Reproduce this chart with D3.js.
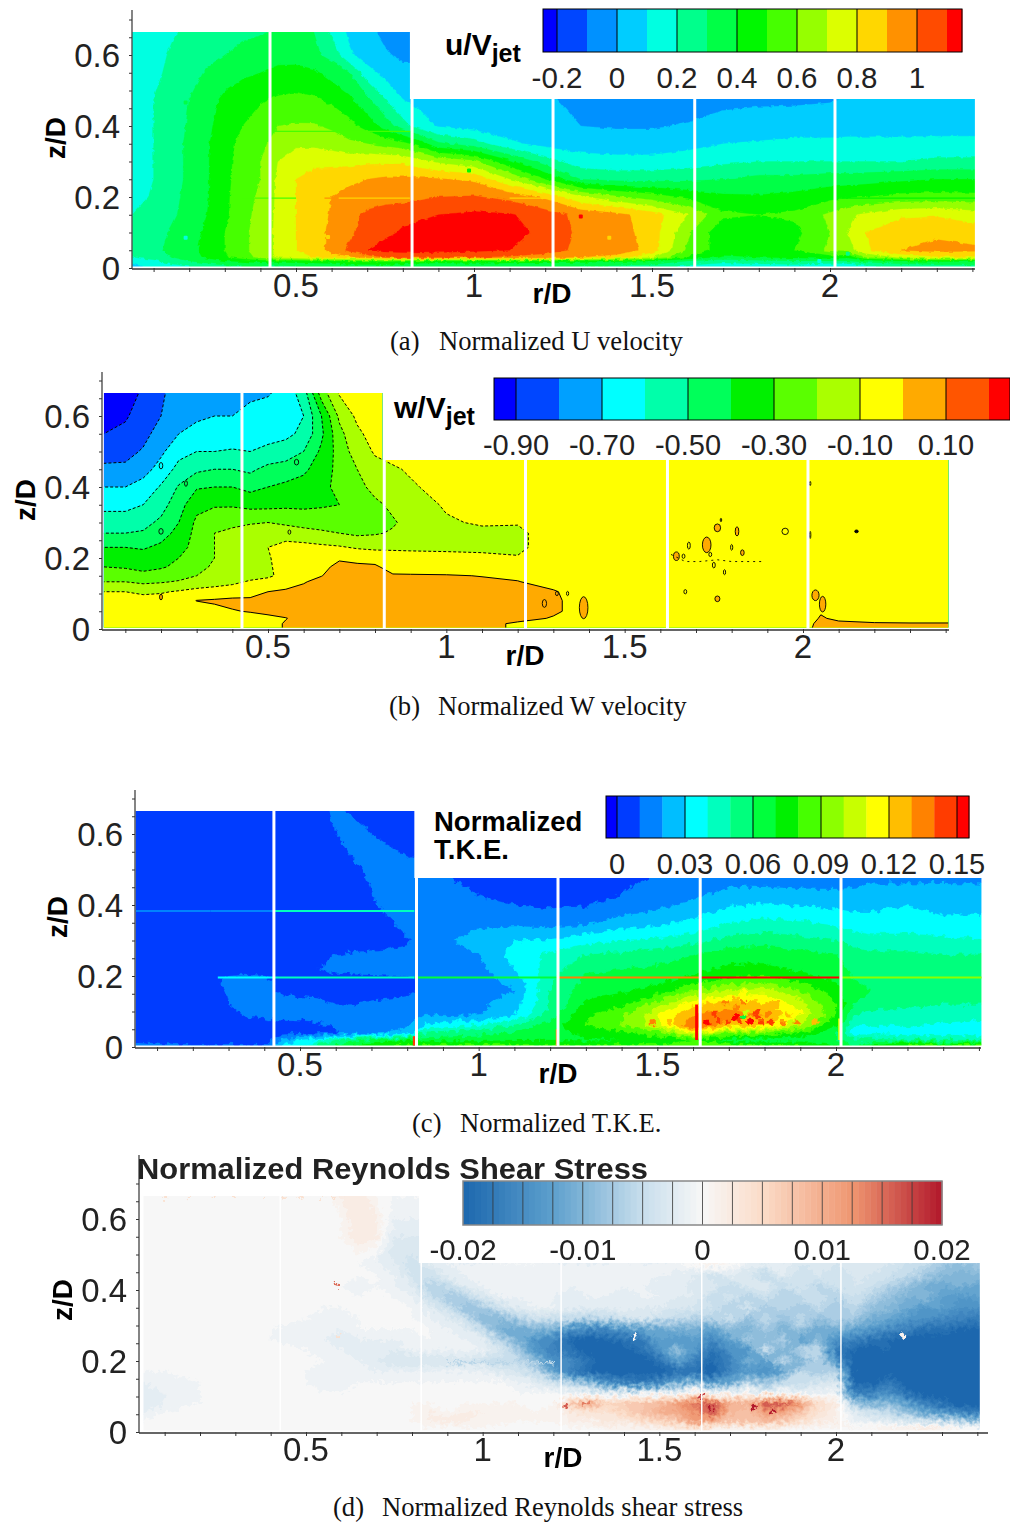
<!DOCTYPE html>
<html><head><meta charset="utf-8">
<script src="https://cdn.jsdelivr.net/npm/d3@7"></script>
<style>html,body{margin:0;padding:0;background:#fff}svg{display:block}text{font-family:"Liberation Sans",Arial,sans-serif}</style>
</head><body><svg id="c" width="1010" height="1523"></svg>
<script>
// ---------- shared grid columns (r/D) ----------
const rCols=[.04,.1,.15,.2,.25,.3,.35,.4,.45,.5,.55,.6,.65,.7,.75,.8,.85,.9,1,1.1,1.2,1.3,1.4,1.5,1.6,1.7,1.8,1.9,2,2.05,2.1,2.2,2.3,2.41];
const gapR=[.427,.826,1.222,1.62,2.014];
const rTickMajor=[.5,1,1.5,2];
const zTickMajor=[0,.2,.4,.6];

// ---------- (a) u/Vjet, in hundredths ----------
const uZ=[.665,.6,.55,.476,.4,.35,.3,.25,.2,.15,.1,.05,.03,.02,.005];
const uRows=[
[13,16,19,22,25,27,28,29,31,31,30,18,8,2,-2,-3],
[12,17,21,24,27,30,33,35,36,35,32,27,12,5,1,-2],
[13,18,22,27,31,35,38,40,43,44,42,36,30,14,7,3],
[14,20,25,30,36,42,46,49,51,52,51,48,42,32,20,10,7,5,3,2,1,-2,-4,-5,-5,-3,-2,-2,-1,1,2,3,3,3],
[15,20,26,31,38,44,50,54,60,61,61,58,53,46,36,24,14,9,6,4,3,0,-1,-1,1,4,5,6,6,7,7,7,6,6],
[15,20,26,32,39,46,53,57,65,68,68,66,62,60,57,53,45,32,25,12,7,6,5,5,7,10,11,12,12,12,12,12,13,13],
[15,20,26,32,39,47,54,60,70,76,77,76,76,78,78,78,73,68,62,42,25,14,13,13,15,18,20,20,20,20,20,20,22,22],
[16,20,26,32,39,47,55,60,72,80,84,87,88,90,92,92,92,91,88,70,50,30,27,27,28,30,33,33,35,35,36,38,40,40],
[17,21,27,33,39,48,55,62,72,80,85,90,93,95,96,96,98,100,101,97,88,72,62,55,48,42,41,43,47,49,50,53,54,53],
[20,22,28,34,40,48,56,64,72,80,85,91,97,102,105,108,109,110,112,111,105,97,93,85,70,52,50,52,62,68,72,78,79,75],
[23,26,31,36,42,50,57,65,72,80,86,92,98,104,108,111,112,114,116,114,107,98,95,85,62,42,43,47,60,70,80,87,88,85],
[25,28,32,37,43,50,57,65,72,80,85,93,102,110,113,114,115,115,112,110,105,97,98,85,58,45,46,50,62,65,78,90,93,92],
[20,24,30,35,42,48,56,62,72,75,80,85,88,95,100,102,102,100,100,98,95,90,85,70,48,38,40,42,45,42,60,72,78,78],
[12,18,24,30,35,40,42,46,45,45,47,48,50,50,52,50,48,47,48,47,46,44,42,40,30,25,28,30,30,30,34,40,42,42],
[8,12,17,20,24,28,30,30,28,30,30,32,35,35,35,33,30,30,32,30,30,30,28,25,18,12,13,15,10,10,18,22,25,25]];
const uLevels=[-.2,-.1,0,.1,.2,.3,.4,.5,.6,.7,.8,.9,1,1.1];
const uColors=["#0000ff","#0046ff","#0091ff","#00cdff","#00ffe1","#00ff8c","#00ff46","#00f800","#46ff00","#96ff00","#dcff00","#ffd700","#ff9100","#ff4b00","#ff0000"];
const uTicks=[-.2,0,.2,.4,.6,.8,1];
const uTickText=["-0.2","0","0.2","0.4","0.6","0.8","1"];
const uSeams=[[.43,.82,.385,57],[.35,.5,.197,58],[.58,.62,.197,93],[.62,.82,.197,83],[1.62,2.41,.197,44],[1.1,1.2,.197,83]];
const uSpots=[[.59,.087,82],[1.38,.085,82],[.19,.085,14],[.59,.466,44],[.986,.275,45],[.19,.466,34],[.59,.275,82],[.19,.27,36],[1.3,.145,110],[2.05,.04,22],[1.97,.02,12]];

// ---------- (b) w/Vjet, in hundredths ----------
const wZ=[.665,.6,.55,.5,.45,.4,.35,.3,.27,.23,.2,.175,.15,.133,.105,.08,.05,.03,.015,0];
const wRows=[
[-96,-93,-89,-81,-77,-75,-74,-73,-72,-71,-66,-55,-25,-9,-5,-3],
[-95,-91,-86,-80,-74,-71,-70,-70,-67,-65,-63,-60,-40,-18,-8,-5],
[-90,-88,-83,-76,-70,-68,-67,-66,-65,-63,-62,-58,-42,-23,-12,-6],
[-84,-83,-79,-72,-63,-60,-60,-59,-60,-58,-56,-50,-38,-26,-15,-9,-7,-6,-4,-2],
[-78,-78,-74,-66,-57,-52,-50,-50,-52,-47,-45,-42,-35,-27,-20,-13,-11,-9,-5,-3],
[-70,-70,-66,-59,-49,-41,-40,-40,-43,-40,-38,-36,-32,-28,-23,-17,-14,-11,-7,-4,-3],
[-63,-63,-60,-54,-44,-33,-31,-31,-33,-33,-32,-32,-31,-30,-28,-22,-18,-14,-9,-6,-4,-3],
[-55,-55,-53,-48,-40,-28,-24,-23,-21,-20,-22,-24,-25,-27,-29,-25,-21,-17,-11,-9,-9,-3],
[-50,-50,-49,-44,-37,-27,-20,-17,-15,-13,-14,-16,-18,-20,-22,-21,-19,-16,-13,-12,-13,-3],
[-40,-40,-41,-38,-33,-27,-20,-15,-13,-10,-7,-7,-8,-9,-11,-12,-12,-12,-12,-12,-13,-3],
[-33,-34,-36,-34,-30,-25,-20,-15,-13,-11,-5,-4,-3,-1,-3,-4,-5,-6,-7,-8,-9,-3],
[-30,-31,-33,-31,-28,-22,-19,-15,-14,-12,-4,-3,-2,2,2,1.5,-4,-4,-4,-5,-5,-3],
[-23,-25,-27,-26,-24,-20,-17,-15,-13,-11,-8,-2,-.2,3,3,3,1,.8,.5,-.2,-1,-3],
[-20,-20,-22,-21,-19,-16,-14,-12,-9,-8,-3,-.5,2,4,4,4,3,3,2,1,.2,-2,-3],
[-10,-10,-12,-11,-9,-7,-6,-5,-4,0,1,2,3,5,5,5,5,5,4,4,3,.5,-3],
[-6,-6,-6,-6,-4,.2,1,2,2,3,4,4,5,5,5,5,5,5,4,4,3,1,-3],
[-5,-5,-5,-5,-5,-4,-2,-.5,.5,1,2,3,4,5,5,5,5,5,4,4,3,1,-3,-3,-3,-3,-3,-3,-3,-.5,-3],
[-5,-5,-5,-5,-5,-5,-5,-4,-3,-1,-.2,2,3,4,4,4,3,3,3,3,2,-.5,-3,-3,-3,-3,-3,-3,-3,.5,-1,-2,-2,-2],
[-5,-5,-5,-5,-5,-5,-5,-4,-3,-2,.5,1,2,3,3,3,2,2,2,2,-1,-2,-3,-3,-3,-3,-3,-3,-3,2,1,.5,.3,.3],
[-5,-5,-5,-5,-5,-5,-5,-4,-3,-2,.5,1,2,3,3,3,2,2,2,2,-1,-2,-3,-3,-3,-3,-3,-3,-3,3,2,1,.5,.5]];
const wLevels=[-.9,-.8,-.7,-.6,-.5,-.4,-.3,-.2,-.1,0,.1,.2];
const wColors=["#0000ff","#0046ff","#00a0ff","#00ffff","#00ffaa","#00ff5a","#00f000","#5aff00","#aaff00","#ffff00","#ffaa00","#ff5500","#ff0000"];
const wTicks=[-.9,-.7,-.5,-.3,-.1,.1];
const wTickText=["-0.90","-0.70","-0.50","-0.30","-0.10","0.10"];
// small isolated contour islands: r, z, r-radius, z-radius, kind (1 = above zero, 2 = black dot, 0 = outline only)
const wIslands=[[.2,.09,.004,.008,1],[.27,.41,.004,.008,0],[.2,.46,.005,.009,0],[.58,.47,.006,.008,0],[.56,.273,.004,.006,0],[.2,.275,.006,.008,0],
[1.385,.06,.012,.031,1],[1.275,.072,.006,.011,0],[1.31,.1,.004,.006,0],[1.34,.1,.003,.006,0],
[1.73,.237,.012,.022,1],[1.645,.205,.008,.012,1],[1.665,.205,.004,.006,0],[1.76,.285,.009,.011,1],[1.815,.275,.005,.013,1],[1.8,.23,.003,.008,0],[1.68,.235,.004,.01,0],[1.83,.215,.005,.008,1],[1.77,.307,.002,.005,0],
[1.95,.275,.009,.009,0],[1.76,.085,.007,.008,1],[1.67,.105,.004,.006,0],[1.74,.21,.004,.006,0],[1.75,.18,.004,.008,0],[1.78,.16,.003,.007,0],[2.15,.275,.005,.004,2],
[2.035,.095,.01,.015,1],[2.055,.07,.009,.022,1],[2.02,.265,.002,.01,0],[2.02,.41,.002,.006,0]];
const wIslandLine=[[1.63,.21],[1.67,.19],[1.71,.19],[1.76,.195],[1.8,.19],[1.85,.19],[1.89,.19]];

// ---------- (c) T.K.E., in thousandths ----------
const kZ=[.665,.6,.55,.476,.42,.38,.34,.3,.26,.22,.19,.16,.12,.09,.06,.04,.02,.005];
const kRows=[
[5,5,5,5,5,5,5,5,5,5,5,12,8,5,5,5],
[5,5,5,5,5,5,5,5,5,5,5,10,15,10,6,5],
[5,5,5,5,5,5,5,5,5,5,5,7,11,15,12,8],
[5,5,5,5,5,5,5,5,5,5,5,5,7,11,20,19,13,11,7,5,5,5,7,11,15,16,15,14,15,16,18,17,18,18],
[5,5,5,5,5,5,5,5,5,5,5,5,5,9,16,20,16,13,10.5,8,7,7,11,15,19,25,26,25,24,24,25,28,26,25],
[5,5,5,5,5,5,5,5,5,5,5,5,5,6,12,18,18,16,13,12,11,12,17,21,26,33,36,34,32,30,30,32,29,29],
[5,5,5,5,5,5,5,5,5,5,5,5,5,5,7,14,19,19,19,20,19,21,28,30,34,42,45,44,40,37,36,37,35,34],
[5,5,5,5,5,5,5,5,5,5,5,5,5,5,5,9,14,18,25,30,31,37,40,42,46,54,56,53,50,45,43,43,42,41],
[5,5,5,5,5,5,5,5,5,6,8,10,11,12,13,12,12,13,20,34,42,50,52,55,60,66,67,64,60,55,52,52,50,50],
[5,5,5,5,5,6,6,6,7,8,10,12,13,14,15,14,14,14,17,30,45,58,60,62,66,72,72,68,64,58,57,57,55,54],
[5,5,5,5,8,12,13,12,8,7,7,7,7,7,7,8,12,14,16,24,48,62,63,66,74,82,84,76,68,60,58,57,55,54],
[5,5,5,5,5,11,13,13,8,6,6,6,6,7,7,8,12,14,16,20,50,66,68,74,90,100,105,90,75,62,60,58,55,54],
[5,5,5,5,5,10,12,13,14,14,13,10,10,11,12,13,16,17,18,25,50,72,78,95,118,125,125,105,80,60,56,53,50,50],
[5,5,5,5,5,6,11,12,14,14,15,16,16,15,14,15,20,18,19,30,55,78,88,110,130,135,130,110,80,50,45,45,45,44],
[5,5,5,5,5,5,5,5,6,7,8,11,13,16,18,20,32,36,42,50,65,80,90,105,140,125,120,100,70,40,40,40,38,35],
[5,5,5,5,5,5,5,5,6,6,7,9,12,18,20,22,50,52,55,60,65,75,78,85,110,90,90,80,60,35,37,35,35,34],
[5,5,5,5,5,5,5,5,20,30,35,50,55,60,65,68,65,66,67,70,70,68,70,75,80,65,65,65,60,50,52,50,50,50],
[18,12,10,10,10,10,10,10,30,40,50,60,70,75,80,80,80,80,80,80,80,80,80,80,80,80,80,80,70,60,70,80,80,80]];
const kLevels=[0,.01,.02,.03,.04,.05,.06,.07,.08,.09,.1,.11,.12,.13,.14,.15];
const kColors=["#0000ff","#003cff","#0082ff","#00beff","#00ffff","#00ffbe","#00ff7d","#00ff3c","#00f000","#46ff00","#8cff00","#c8ff00","#ffff00","#ffbe00","#ff8200","#ff3c00","#ff0000"];
const kTicks=[0,.03,.06,.09,.12,.15];
const kTickText=["0","0.03","0.06","0.09","0.12","0.15"];
const kSeams=[[.04,.25,.383,12],[.25,.43,.383,18],[.43,.82,.383,40],[.27,.43,.196,35],[.43,.82,.196,45],[.82,1.22,.196,60],[1.22,1.62,.196,135],[1.62,2.01,.196,150],[2.01,2.41,.196,95]];
const kVSeams=[[1.61,.02,.12,150],[.82,0,.03,140],[1.22,0,.05,130],[2.01,.02,.08,100],[1.62,.13,.18,110]];
const kSpots=[[1.49,.068,130],[1.53,.07,125],[1.57,.068,120],[1.64,.07,150],[1.67,.075,145],[1.7,.07,148],[1.73,.072,145],[1.76,.07,150],[1.79,.068,145],[1.82,.07,140],[1.85,.068,135],[1.89,.068,130],[1.94,.07,125],
[1.66,.095,140],[1.69,.1,135],[1.72,.11,138],[1.75,.095,100],[1.78,.1,140],[1.81,.095,135],[1.84,.1,125],[1.87,.09,128],[1.69,.125,132],[1.72,.135,125],[1.74,.15,118],[1.77,.125,128],[1.8,.13,118],[1.83,.12,122],[1.86,.115,115],[1.72,.085,150],[1.67,.118,122],[1.9,.1,118],[1.74,.13,132],[1.74,.085,60],[1.78,.085,148]];

// ---------- (d) Reynolds shear stress, in thousandths ----------
const sR=[.04,.1,.2,.3,.4,.5,.55,.6,.65,.7,.75,.8,.85,.9,.95,1,1.05,1.1,1.15,1.2,1.25,1.3,1.35,1.4,1.45,1.5,1.55,1.6,1.65,1.7,1.75,1.8,1.85,1.9,1.95,2,2.05,2.1,2.15,2.2,2.25,2.3,2.35,2.41];
const sZ=[.665,.6,.55,.5,.475,.44,.41,.38,.35,.32,.29,.26,.23,.2,.17,.14,.11,.08,.055,.03,.012,0];
const sRows=[
[0,0,0,0,0,0,0,2,3,1,0,0],
[0,0,0,0,0,0,0,1,3,2,-1,-1],
[0,0,0,0,0,0,0,1,3,2,-2,-2],
[0,0,0,0,0,0,0,0,1,0,-3,-3],
[0,0,0,0,0,0,0,0,0,-1,-2,-4,-2,-1,-1,-1,0,0,0,-1,-1,-1,-1,0,-1,-1,0,1,2,1,-1,-2,-1,-3,-2,-3,-3,-3,-3,-4,-5,-7,-8,-7],
[0,0,0,0,0,0,0,0,0,0,-1,-3,-4,-2,-1,-1,-1,-1,-1,-1,-1,-1,-1,-1,0,-1,-2,-2,-4,-2,-3,-5,-2,-4,-3,-4,-3,-3,-4,-5,-7,-9,-10,-9],
[0,0,0,0,0,0,0,0,-1,0,-1,-2,-6,-5,-2,-1,-1,-1,-1,-1,-1,-1,0,-1,-1,-2,-1,-3,-2,-5,-3,-2,-5,-3,-6,-4,-3,-4,-6,-8,-10,-11,-10,-12],
[0,0,0,0,0,0,0,0,0,0,0,-1,-4,-7,-6,-3,-1,-1,-1,-1,-2,-1,-1,-2,-1,-1,-2,-2,-5,-3,-6,-4,-6,-5,-4,-6,-4,-6,-8,-10,-9,-12,-13,-12],
[0,0,0,0,0,0,0,0,0,0,0,0,-2,-4,-8,-7,-4,-2,-1,-1,-2,-2,-2,-1,-2,-2,-3,-3,-4,-6,-3,-7,-5,-7,-5,-7,-5,-8,-9,-11,-13,-12,-14,-14],
[0,0,0,0,0,0,-1,-1,0,0,0,0,-1,-2,-4,-9,-9,-6,-4,-4,-5,-6,-5,-4,-3,-4,-5,-6,-6,-4,-8,-5,-8,-5,-8,-6,-7,-10,-11,-13,-14,-15,-16,-17],
[0,0,0,0,0,-1,-1,-1,0,0,0,0,0,-1,-2,-5,-10,-11,-9,-10,-14,-15,-15,-13,-12,-11,-10,-10,-12,-8,-10,-7,-10,-7,-11,-10,-11,-13,-15,-16,-18,-18,-19,-19],
[0,0,0,0,0,-1,-1,-2,-1,-1,-1,-1,0,-1,-1,-2,-6,-10,-14,-15,-19,-20,-19,-18,-17,-12,-13,-12,-15,-12,-7,-9,-6,-12,-9,-14,-16,-18,-19,-20,-20,-20,-20,-20],
[0,0,0,0,0,0,-1,-1,-2,-2,-2,-1,-1,-1,-1,-1,-3,-7,-13,-16,-18,-20,-20,-20,-18,-14,-8,-13,-18,-14,-14,-4,-10,-6,-5,-17,-19,-20,-19,-20,-20,-20,-20,-20],
[0,0,0,0,0,0,0,-1,-1,-2,-3,-3,-3,-3,-3,-4,-5,-5,-9,-14,-15,-18,-20,-20,-20,-18,-12,-16,-19,-16,-10,-12,-5,-10,-6,-13,-20,-20,-20,-20,-20,-20,-20,-20],
[0,0,0,0,0,0,-1,-1,-1,-1,-1,-1,-1,-1,-1,-1,-2,-3,-5,-12,-16,-19,-20,-20,-20,-20,-18,-18,-20,-15,-13,-14,-12,-5,-7,-6,-19,-20,-20,-20,-20,-20,-20,-20],
[-1,-1,0,0,0,0,-1,-1,0,0,0,0,0,0,0,0,0,-1,-2,-4,-6,-9,-14,-16,-17,-15,-12,-9,-14,-11,-6,-8,-5,-5,-3,-3,-19,-20,-17,-20,-20,-20,-20,-20],
[-2,-1,0,0,0,0,0,0,0,0,0,0,0,0,0,0,0,0,0,0,-1,-1,-2,-2,-2,-1,-1,3,0,-1,1,-2,0,-1,-1,0,-16,-16,-14,-18,-20,-20,-20,-20],
[-2,-1,0,1,0,0,0,0,0,0,0,1,1,0,1,1,1,1,0,1,8,11,6,7,8,9,12,15,17,10,10,17,17,12,5,3,-7,-10,-9,-12,-16,-18,-20,-20],
[-1,0,0,1,0,1,0,0,0,0,0,1,2,1,2,2,1,1,1,1,3,4,4,6,8,10,11,13,17,9,8,12,11,8,4,2,-2,-4,-5,-8,-11,-13,-15,-17],
[0,0,1,0,1,0,0,0,0,0,0,1,2,3,2,1,2,1,1,1,2,2,3,3,5,6,7,12,10,8,8,9,7,5,3,2,-1,-1,-2,-3,-4,-5,-6,-8],
[0,0,0,0,0,0,0,0,0,0,0,0,1,0,1,1,0,0,0,0,1,1,2,1,2,2,3,4,3,2,2,3,2,1,1,1,1,1,2,2,3,2,1,0],
[0,0,0,0,0,0,0,0,0,0,0,0,0,0,0,0,0,0,0,0,0,0,1,1,1,1,2,2,1,1,1,1,1,0,0,0,0,0,1,1,1,1,0,0]];
const sStops=[-.02,-.0125,-.005,0,.005,.0125,.02];
const sStopColors=["#1c67ae","#5da0cd","#c8deec","#f7f7f7","#fbdcc8","#ef9670","#b2182b"];
const sTicks=[-.02,-.01,0,.01,.02];
const sTickText=["-0.02","-0.01","0","0.01","0.02"];
const sSeams=[[.9,1.2,.195,-6]];
const sSpots=[[.59,.415,15],[.59,.27,4],[1.43,.27,0],[2.19,.27,1],[1.24,.075,16],[1.62,.1,18],[1.77,.07,20],[1.82,.06,20],[1.645,.065,20],[1.29,.08,14]];
const sTopSpeck=[.1,.17,.24,.3,.38,.44,.48,.51,.55,.58];

// ---------- layout helpers ----------
const svg=d3.select("#c");
const defs=svg.append("defs");
function texture(id,freq,scale,blur){
  const fl=defs.append("filter").attr("id",id).attr("filterUnits","userSpaceOnUse").attr("x",0).attr("y",0).attr("width",1010).attr("height",1523).attr("color-interpolation-filters","sRGB");
  fl.append("feTurbulence").attr("type","fractalNoise").attr("baseFrequency",freq).attr("numOctaves",2).attr("seed",4).attr("result","n");
  fl.append("feDisplacementMap").attr("in","SourceGraphic").attr("in2","n").attr("scale",scale).attr("xChannelSelector","R").attr("yChannelSelector","G").attr("result","m");
  if(blur) fl.append("feGaussianBlur").attr("in","m").attr("stdDeviation",blur);
}
texture("texA",.2,4,0);
texture("texC",.17,9,0);
texture("texD",.22,13,.7);
const softT=defs.append("filter").attr("id","softT").attr("filterUnits","userSpaceOnUse").attr("x",0).attr("y",1140).attr("width",1010).attr("height",340).attr("color-interpolation-filters","sRGB");
softT.append("feGaussianBlur").attr("stdDeviation",.4);
const pad=(rows,n)=>rows.map(r=>{const a=r.slice();while(a.length<n)a.push(a[a.length-1]);return [a[0],...a,a[a.length-1]];});
let uid=0;

function field(g,p){
  const n=p.rs.length;
  const rows=pad(p.rows,n);
  const grid=[rows[0],...rows,rows[rows.length-1]];
  const rsP=[-2,...p.rs,5], zsP=[3,...p.zs,-2];
  const ix=d3.scaleLinear(rsP.map((_,i)=>i+.5),rsP);
  const iy=d3.scaleLinear(zsP.map((_,i)=>i+.5),zsP);
  const values=grid.flat().map(v=>v*p.unit);
  const conts=d3.contours().size([rsP.length,zsP.length]).thresholds(p.levels)(values);
  const path=d3.geoPath(d3.geoTransform({point(x,y){this.stream.point(p.x(ix(x)),p.y(iy(y)));}}));
  const id="clip"+(uid++);
  const e=p.ext;
  const poly=[[e.r0,e.z0],[e.r0,e.zTop],[e.rStep,e.zTop],[e.rStep,e.zStep],[e.r1,e.zStep],[e.r1,e.z0]];
  defs.append("clipPath").attr("id",id).append("polygon").attr("points",poly.map(q=>[p.x(q[0]),p.y(q[1])].join(",")).join(" "));
  const f=g.append("g").attr("clip-path",`url(#${id})`);
  const inner=f.append("g");
  if(p.fx) inner.attr("filter",`url(#${p.fx})`);
  inner.append("rect").attr("x",p.x(e.r0)-20).attr("y",p.y(e.zTop)-20).attr("width",p.x(e.r1)-p.x(e.r0)+40).attr("height",p.y(e.z0)-p.y(e.zTop)+40).attr("fill",p.color(d3.min(values)-1));
  inner.selectAll("path.band").data(conts).join("path").attr("class","band").attr("d",path).attr("fill",d=>p.color(d.value+1e-6)).attr("stroke",d=>p.color(d.value+1e-6)).attr("stroke-width",.3);
  if(p.lines){
    f.selectAll("path.iso").data(conts).join("path").attr("class","iso").attr("d",path).attr("fill","none").attr("stroke","#000").attr("stroke-width",1).attr("stroke-dasharray",d=>d.value<-1e-6?"3,2":null);
  }
  return {f,inner};
}
function axes(g,p){
  const ink="#333";
  const bx=d3.axisBottom(p.x).tickValues(d3.range(.1,2.41,.1).map(v=>+v.toFixed(1))).tickSize(4).tickFormat("");
  const gx=g.append("g").attr("transform",`translate(0,${p.y(0)})`).call(bx);
  gx.select(".domain").remove();
  gx.selectAll("line").attr("stroke",ink);
  const gl=g.append("g").attr("transform",`translate(0,${p.y(0)+2})`);
  gl.selectAll("text").data(rTickMajor).join("text").attr("x",d=>p.x(d)).attr("y",27).attr("text-anchor","middle").attr("font-size",33).attr("fill","#222").text(d=>d);
  g.append("line").attr("x1",p.axisX).attr("x2",p.axisR).attr("y1",p.y(0)+1).attr("y2",p.y(0)+1).attr("stroke",ink).attr("stroke-width",1.4);
  const by=d3.axisLeft(p.y).tickValues(d3.range(0,.71,.05).map(v=>+v.toFixed(2))).tickSize(3).tickFormat("");
  const gy=g.append("g").attr("transform",`translate(${p.axisX},0)`).call(by);
  gy.select(".domain").remove();
  gy.selectAll("line").attr("stroke",ink);
  g.append("line").attr("x1",p.axisX).attr("x2",p.axisX).attr("y1",p.axisTop).attr("y2",p.y(0)+1).attr("stroke",ink).attr("stroke-width",1.2);
  g.selectAll("text.zl").data(zTickMajor).join("text").attr("class","zl").attr("x",p.axisX-12).attr("y",d=>p.y(d)+12).attr("text-anchor","end").attr("font-size",33).attr("fill","#222").text(d=>d);
  g.append("text").attr("x",p.rLab[0]).attr("y",p.rLab[1]).attr("text-anchor","middle").attr("font-size",28).attr("font-weight","bold").text("r/D");
  g.append("text").attr("transform",`translate(${p.zLab[0]},${p.zLab[1]}) rotate(-90)`).attr("text-anchor","middle").attr("font-size",28).attr("font-weight","bold").text("z/D");
}
function gaps(g,p,w,col){
  g.selectAll("line.gap").data(gapR).join("line").attr("class","gap").attr("x1",d=>p.x(d)).attr("x2",d=>p.x(d))
   .attr("y1",d=>p.y(d<.82?p.ext.zTop:p.ext.zStep)).attr("y2",p.y(0)).attr("stroke",col).attr("stroke-width",w);
}
function seams(g,p,list,w){
  g.selectAll(null).data(list).join("line").attr("x1",d=>p.x(d[0])).attr("x2",d=>p.x(d[1])).attr("y1",d=>p.y(d[2])).attr("y2",d=>p.y(d[2])).attr("stroke",d=>p.color(d[3]*p.unit)).attr("stroke-width",w);
}
function spots(g,p,list,w,h){
  g.selectAll(null).data(list).join("rect").attr("x",d=>p.x(d[0])-w/2).attr("y",d=>p.y(d[1])-h/2).attr("width",w).attr("height",h).attr("rx",1).attr("fill",d=>p.color(d[2]*p.unit));
}
function bandBar(g,b,levels,colors,ticks,text){
  const x=d3.scaleLinear([ticks[0],ticks[ticks.length-1]],[b.t0,b.t1]);
  const edges=[x.invert(b.x0),...levels,x.invert(b.x1)];
  g.selectAll(null).data(colors).join("rect").attr("x",(d,i)=>x(edges[i])).attr("y",b.y).attr("width",(d,i)=>x(edges[i+1])-x(edges[i])+.4).attr("height",b.h).attr("fill",d=>d);
  g.selectAll(null).data(ticks).join("line").attr("x1",d=>x(d)).attr("x2",d=>x(d)).attr("y1",b.y).attr("y2",b.y+b.h).attr("stroke","#000").attr("stroke-width",1);
  g.append("rect").attr("x",b.x0).attr("y",b.y).attr("width",b.x1-b.x0).attr("height",b.h).attr("fill","none").attr("stroke","#000").attr("stroke-width",1);
  g.selectAll(null).data(ticks).join("text").attr("x",d=>x(d)).attr("y",b.ly).attr("text-anchor","middle").attr("font-size",b.fs).attr("fill","#222").text((d,i)=>text[i]);
}
function caption(tag,x1,name,x2,y){
  const c=svg.append("g").attr("font-size",26.6).attr("fill","#111");
  c.append("text").attr("x",x1).attr("y",y).style("font-family","'Liberation Serif',serif").text(tag);
  c.append("text").attr("x",x2).attr("y",y).style("font-family","'Liberation Serif',serif").text(name);
}
const stepColor=(levels,colors)=>d3.scaleThreshold(levels,colors);
function mk(xa,xb,y0,y6,zTop,zStep,r0,r1,extra){
  const x=d3.scaleLinear([.5,2],[xa,xb]);
  const y=d3.scaleLinear([0,.6],[y0,y6]);
  return Object.assign({x,y,ext:{r0,r1,rStep:.82,zTop,zStep,z0:.004}},extra);
}

// ---------- panel a ----------
{
 const g=svg.append("g");
 const p=mk(296,830,268,55,.665,.476,.04,2.407,{rs:rCols,zs:uZ,rows:uRows,unit:.01,levels:uLevels,color:stepColor(uLevels,uColors),fx:"texA",axisX:132,axisR:975,axisTop:10,rLab:[552,303],zLab:[65,138]});
 const {f}=field(g,p);
 seams(f,p,uSeams,1.2); spots(f,p,uSpots,4,4);
 gaps(g,p,3,"#fff"); axes(g,p);
 bandBar(g,{x0:543,x1:962,t0:557,t1:917,y:9,h:43,ly:88,fs:29.5},uLevels,uColors,uTicks,uTickText);
 const t=g.append("text").attr("x",445).attr("y",55).attr("font-size",30).attr("font-weight","bold");
 t.append("tspan").text("u/V"); t.append("tspan").attr("font-size",25).attr("dy",7).text("jet");
 caption("(a)",390,"Normalized U velocity",439,350);
}
// ---------- panel b ----------
{
 const g=svg.append("g");
 const p=mk(268,803,629,416,.665,.476,.04,2.407,{rs:rCols,zs:wZ,rows:wRows,unit:.01,levels:wLevels,color:stepColor(wLevels,wColors),lines:true,axisX:102,axisR:949,axisTop:372,rLab:[525,665],zLab:[35,500]});
 const {f}=field(g,p);
 f.selectAll(null).data(wIslands).join("ellipse").attr("cx",d=>p.x(d[0])).attr("cy",d=>p.y(d[1])).attr("rx",d=>p.x(d[0]+d[2])-p.x(d[0])).attr("ry",d=>p.y(d[1])-p.y(d[1]+d[3]))
  .attr("fill",d=>d[4]==2?"#000":d[4]==1?"#ffaa00":"none").attr("stroke","#000").attr("stroke-width",.9);
 f.append("path").attr("d",d3.line().x(d=>p.x(d[0])).y(d=>p.y(d[1]))(wIslandLine)).attr("fill","none").attr("stroke","#000").attr("stroke-width",.9).attr("stroke-dasharray","2,4");
 gaps(g,p,3,"#fff"); axes(g,p);
 bandBar(g,{x0:494,x1:1010,t0:516,t1:946,y:378,h:42,ly:455,fs:29},wLevels,wColors,wTicks,wTickText);
 const t=g.append("text").attr("x",394).attr("y",418).attr("font-size",30).attr("font-weight","bold");
 t.append("tspan").text("w/V"); t.append("tspan").attr("font-size",25).attr("dy",7).text("jet");
 caption("(b)",389,"Normalized W velocity",438,715);
}
// ---------- panel c ----------
{
 const g=svg.append("g");
 const p=mk(300,836,1047,834,.665,.476,.04,2.407,{rs:rCols,zs:kZ,rows:kRows,unit:.001,levels:kLevels,color:stepColor(kLevels,kColors),fx:"texC",axisX:135,axisR:981,axisTop:790,rLab:[558,1083],zLab:[67,917]});
 const {f,inner}=field(g,p);
 spots(inner,p,kSpots,6,5);
 seams(f,p,kSeams,2);
 f.selectAll(null).data(kVSeams).join("line").attr("x1",d=>p.x(d[0])).attr("x2",d=>p.x(d[0])).attr("y1",d=>p.y(d[2])).attr("y2",d=>p.y(d[1])).attr("stroke",d=>p.color(d[3]*p.unit)).attr("stroke-width",3);
 gaps(g,p,3,"#fff"); axes(g,p);
 bandBar(g,{x0:606,x1:969,t0:617,t1:957,y:796,h:42,ly:874,fs:29},kLevels,kColors,kTicks,kTickText);
 const t=g.append("g").attr("font-size",27.5).attr("font-weight","bold");
 t.append("text").attr("x",434).attr("y",831).text("Normalized");
 t.append("text").attr("x",434).attr("y",859).text("T.K.E.");
 caption("(c)",412,"Normalized T.K.E.",460,1132);
}
// ---------- panel d ----------
{
 const g=svg.append("g").attr("filter","url(#softT)");
 const col=d3.scaleLinear(sStops,sStopColors).clamp(true);
 const sLevels=d3.range(-20,20.5,1).map(v=>v*.001);
 const p=mk(306,836,1432,1219,.665,.476,.04,2.407,{rs:sR,zs:sZ,rows:sRows,unit:.001,levels:sLevels,color:col,fx:"texD",axisX:139,axisR:988,axisTop:1155,rLab:[563,1467],zLab:[72,1300]});
 const {f,inner}=field(g,p);
 seams(inner,p,sSeams,1.5); spots(inner,p,sSpots,4,4);
 inner.selectAll(null).data(sTopSpeck).join("rect").attr("x",d=>p.x(d)-1.5).attr("y",p.y(.665)).attr("width",3).attr("height",2).attr("fill",col(.004));
 gaps(g,p,1.5,"#fff"); axes(g,p);
 const x=d3.scaleLinear([-.02,.02],[463,942]);
 const bar=g.append("g");
 const cells=d3.range(-.02,.02,.0005);
 bar.selectAll(null).data(cells).join("rect").attr("x",d=>x(d)).attr("y",1181).attr("width",x(.0005)-x(0)+.4).attr("height",44).attr("fill",d=>col(d+.00025));
 bar.selectAll(null).data(d3.range(-.0175,.0199,.0025)).join("line").attr("x1",d=>x(d)).attr("x2",d=>x(d)).attr("y1",1181).attr("y2",1225).attr("stroke","#333").attr("stroke-width",.8);
 bar.append("rect").attr("x",463).attr("y",1181).attr("width",479).attr("height",44).attr("fill","none").attr("stroke","#888").attr("stroke-width",1.5);
 g.selectAll(null).data(sTicks).join("text").attr("x",d=>x(d)).attr("y",1260).attr("text-anchor","middle").attr("font-size",29.5).attr("fill","#222").text((d,i)=>sTickText[i]);
 g.append("text").attr("x",137).attr("y",1179).attr("font-size",29).attr("font-weight","bold").attr("fill","#222").attr("textLength",511).attr("lengthAdjust","spacingAndGlyphs").text("Normalized Reynolds Shear Stress");
 caption("(d)",333,"Normalized Reynolds shear stress",382,1516);
}
</script></body></html>
